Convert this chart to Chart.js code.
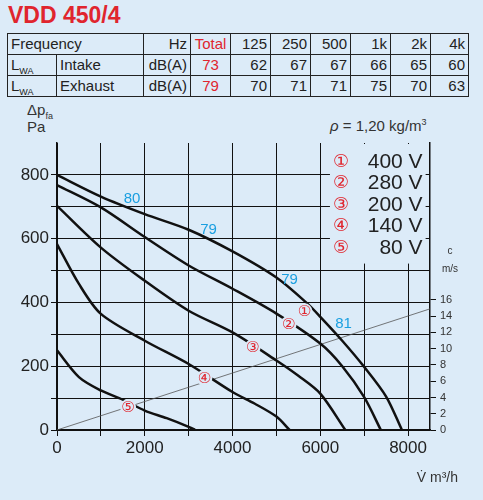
<!DOCTYPE html>
<html><head><meta charset="utf-8">
<script src="https://cdn.jsdelivr.net/npm/chart.js@4"></script>
<style>
body{margin:0;width:483px;height:500px;background:#dcebf8;font-family:"Liberation Sans",Arial,sans-serif;position:relative;overflow:hidden}
#t{position:absolute;left:8px;top:2px;color:#e0252e;font-size:23px;font-weight:bold}
table{position:absolute;left:7px;top:33px;width:461px;table-layout:fixed;border-collapse:collapse;font-family:"Liberation Sans Narrow","Liberation Sans",sans-serif;font-size:15px;color:#222}
td{border:1px solid #222;height:21px;padding:0 3px;line-height:20px;box-sizing:border-box;white-space:nowrap;overflow:hidden}
.r{text-align:right}.red{color:#e0252e;text-align:center}
sub{font-size:9px;line-height:0}
#dp{position:absolute;left:27px;top:101px;font-size:15px;color:#333;line-height:17px}
#rho{position:absolute;left:330px;top:117px;font-size:15px;color:#333}
canvas{position:absolute;left:0;top:130px}
</style></head><body>
<div id="t">VDD 450/4</div>
<table>
<colgroup><col style="width:49px"><col style="width:87px"><col style="width:47px"><col style="width:40px"><col style="width:40px"><col style="width:40px"><col style="width:40px"><col style="width:40px"><col style="width:40px"><col style="width:38px"></colgroup>
<tr><td colspan="2">Frequency</td><td class="r">Hz</td><td class="red">Total</td><td class="r">125</td><td class="r">250</td><td class="r">500</td><td class="r">1k</td><td class="r">2k</td><td class="r">4k</td></tr>
<tr><td>L<sub>WA</sub></td><td>Intake</td><td class="r">dB(A)</td><td class="red">73</td><td class="r">62</td><td class="r">67</td><td class="r">67</td><td class="r">66</td><td class="r">65</td><td class="r">60</td></tr>
<tr><td>L<sub>WA</sub></td><td>Exhaust</td><td class="r">dB(A)</td><td class="red">79</td><td class="r">70</td><td class="r">71</td><td class="r">71</td><td class="r">75</td><td class="r">70</td><td class="r">63</td></tr>
</table>
<div id="dp">Δp<sub>fa</sub><br>Pa</div>
<div id="rho"><i>ρ</i> = 1,20 kg/m<sup style="font-size:9px">3</sup></div>
<canvas id="c" width="483" height="370" style="width:483px;height:370px"></canvas>
<script>
const flow1=[0,1000,2000,3000,4000,5000,5700,6000,6500,7000,7500,7860];
const p1=[800,732,677,628,560,478,397,355,280,198,105,0];
const flow2=[0,1000,2000,3000,4000,5000,6000,6500,7000,7380];
const p2=[768,698,605,516,443,365,271,200,103,0];
const flow3=[0,1000,2000,3000,4000,5000,5500,6000,6570];
const p3=[703,572,468,374,306,218,170,114,0];
const flow4=[0,500,1000,2000,3000,4000,4500,5000,5300];
const p4=[583,458,364,280,207,119,83,42,0];
const flow5=[0,500,1000,1500,2000,2500,3000,3150];
const p5=[250,166,124,95,61,37,10,0];
const velFlow=[0,8500], velC=[0,14.9];
const soundLabels=[["80",1710,724],["79",3455,627],["79",5300,470],["81",6530,332]];
const curveMarks=[["①",5640,372],["②",5280,333],["③",4460,260],["④",3360,164],["⑤",1620,72]];
const legendNums=["①","②","③","④","⑤"], legendVolt=["400 V","280 V","200 V","140 V","80 V"];
const BG='#dcebf8';
const pts=(x,y)=>x.map((v,i)=>({x:v,y:y[i]}));
const ln=(x,y)=>({data:pts(x,y),borderColor:'#111',borderWidth:2.5,pointRadius:0,tension:0.3,yAxisID:'y'});
const overlay={id:'ov',afterDatasetsDraw(ch){
 const c=ch.ctx,xs=ch.scales.x,ys=ch.scales.y;
 c.save();
 const lx=xs.getPixelForValue(6220),ly=ys.getPixelForValue(900),rx=xs.getPixelForValue(8400),by=ys.getPixelForValue(525);
 c.fillStyle=BG;c.fillRect(lx,ly+1,rx-lx,by-ly);
 c.textBaseline='middle';
 legendNums.forEach((n,i)=>{const y=ly+19+i*21.5;
  c.fillStyle='#e0252e';c.font='18px "DejaVu Sans"';c.textAlign='center';c.fillText(n,lx+11,y);
  c.fillStyle='#222';c.font='21px "Liberation Sans"';c.textAlign='right';c.fillText(legendVolt[i],rx-3,y);});
 c.font='15px "Liberation Sans"';c.textAlign='center';c.fillStyle='#1a9fe0';
 soundLabels.forEach(([t,x,y])=>c.fillText(t,xs.getPixelForValue(x),ys.getPixelForValue(y)));
 c.font='15px "DejaVu Sans"';
 curveMarks.forEach(([t,x,y])=>{const px=xs.getPixelForValue(x),py=ys.getPixelForValue(y);
  c.fillStyle=BG;c.beginPath();c.arc(px,py,8,0,7);c.fill();c.fillStyle='#e0252e';c.fillText(t,px,py+1);});
 c.fillStyle='#333';c.font='10px "Liberation Sans"';
 c.fillText('c',ch.chartArea.right+20,ys.getPixelForValue(560));
 c.fillText('m/s',ch.chartArea.right+20,ys.getPixelForValue(505));
 c.font='14px "Liberation Sans"';c.textAlign='right';
 c.fillText('V̇ m³/h',ch.chartArea.right+28,348);
 c.restore();}};
new Chart(document.getElementById('c'),{type:'line',
 data:{datasets:[ln(flow1,p1),ln(flow2,p2),ln(flow3,p3),ln(flow4,p4),ln(flow5,p5),
  {data:pts(velFlow,velC),borderColor:'#555',borderWidth:0.8,pointRadius:0,yAxisID:'y1'}]},
 options:{responsive:false,animation:false,layout:{padding:{top:13,bottom:0,left:0,right:0}},
  plugins:{legend:{display:false},tooltip:{enabled:false}},
  scales:{
   x:{type:'linear',min:0,max:8500,afterBuildTicks(a){a.ticks=[0,1000,2000,3000,4000,5000,6000,7000,8000].map(v=>({value:v}));},
    grid:{color:'#111',lineWidth:1,tickLength:6},border:{color:'#111',width:1.5},
    ticks:{color:'#222',font:{size:17,family:'Liberation Sans'},callback:v=>v%2000===0?v:'',padding:2,maxRotation:0,autoSkip:false},
    afterFit(a){a.height=70;}},
   y:{min:0,max:900,afterBuildTicks(a){a.ticks=[0,100,200,300,400,500,600,700,800].map(v=>({value:v}));},
    grid:{color:'#111',lineWidth:1,tickLength:6},border:{color:'#111',width:1.5},
    ticks:{color:'#222',font:{size:17,family:'Liberation Sans'},callback:v=>v%200===0?v:'',padding:2,autoSkip:false},
    afterFit(a){a.width=57;}},
   y1:{position:'right',min:0,max:35.3,afterBuildTicks(a){a.ticks=[0,2,4,6,8,10,12,14,16].map(v=>({value:v}));},
    grid:{display:true,drawOnChartArea:false,color:'#111',tickLength:6},border:{color:'#111',width:1.5},
    ticks:{color:'#333',font:{size:11,family:'Liberation Sans'},padding:4,autoSkip:false},
    afterFit(a){a.width=53;}}}},
 plugins:[overlay]});
</script></body></html>
